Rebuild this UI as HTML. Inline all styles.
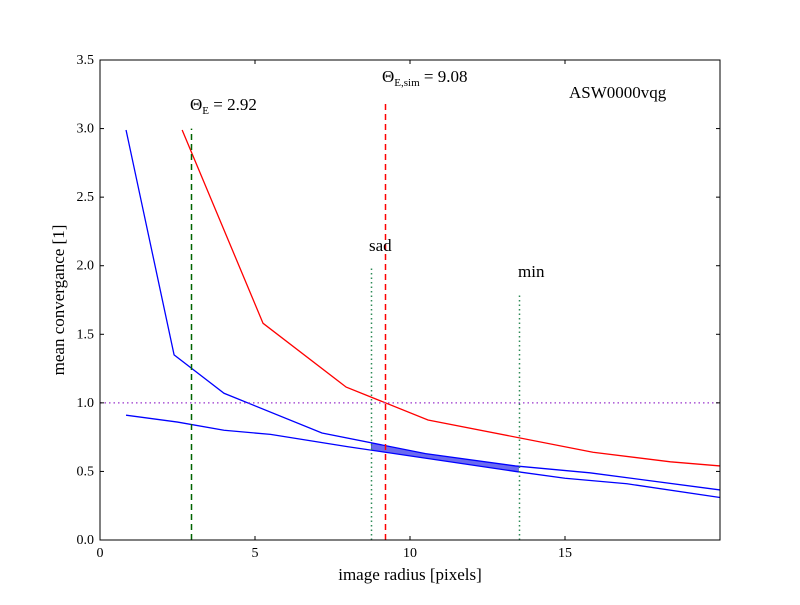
<!DOCTYPE html>
<html><head><meta charset="utf-8"><style>body{margin:0;background:#fff}svg text{font-family:"Liberation Serif",serif}</style></head>
<body>
<svg id="chart" width="800" height="600" xmlns="http://www.w3.org/2000/svg"></svg>
<script>
const xTicks=[0,5,10,15];
const yTicks=[0.0,0.5,1.0,1.5,2.0,2.5,3.0,3.5];
const redX=[2.65,5.26,7.94,10.58,15.9,18.4,20];
const redY=[2.99,1.58,1.115,0.875,0.64,0.57,0.54];
const blueUpX=[0.84,2.39,4.0,7.16,10.5,13.4,15.8,20];
const blueUpY=[2.99,1.35,1.07,0.78,0.63,0.54,0.49,0.365];
const blueLoX=[0.84,2.5,4.0,5.5,8.0,13.4,15.0,17.0,20];
const blueLoY=[0.91,0.86,0.80,0.77,0.68,0.50,0.45,0.41,0.31];
const shadeRange=[8.75,13.5];
const thetaE=2.95, thetaSim=9.2, sadX=8.75, minX=13.5;
const S='http://www.w3.org/2000/svg', svg=document.getElementById('chart');
const X=v=>100+v*31, Y=v=>540-v*137.14;
function el(t,a,p){const e=document.createElementNS(S,t);for(const k in a)e.setAttribute(k,a[k]);(p||svg).appendChild(e);return e;}
function interp(xs,ys,x){for(let i=0;i<xs.length-1;i++)if(x>=xs[i]&&x<=xs[i+1])return ys[i]+(ys[i+1]-ys[i])*(x-xs[i])/(xs[i+1]-xs[i]);return ys[ys.length-1];}
let pts=[];
const sx=[shadeRange[0],...blueUpX.filter(v=>v>shadeRange[0]&&v<shadeRange[1]),shadeRange[1]];
sx.forEach(x=>pts.push(X(x)+','+Y(interp(blueUpX,blueUpY,x))));
const sx2=[shadeRange[0],...blueLoX.filter(v=>v>shadeRange[0]&&v<shadeRange[1]),shadeRange[1]].reverse();
sx2.forEach(x=>pts.push(X(x)+','+Y(interp(blueLoX,blueLoY,x))));
let sh=el('polygon',{points:pts.join(' '),fill:'#6b6bf0',stroke:'#3333cc','stroke-width':0.5});


function line(xs,ys,c,n){const p=el('polyline',{points:xs.map((x,i)=>X(x)+','+Y(ys[i])).join(' '),fill:'none',stroke:c,'stroke-width':1.3});

}
line(redX,redY,'#ff0000','red-curve');
line(blueUpX,blueUpY,'#0000ff','blue-upper-curve');
line(blueLoX,blueLoY,'#0000ff','blue-lower-curve');
function vl(x,top,c,dash,n){const px=Math.round(X(x))+0.5;const l=el('line',{x1:px,x2:px,y1:540,y2:Y(top),stroke:c,'stroke-width':1.5,'stroke-dasharray':dash});

}
vl(thetaE,3.0,'#006400','6,4','theta-e-line');
vl(thetaSim,3.2,'#ff0000','6,4','theta-sim-line');
vl(sadX,2.0,'#2e8b57','1.5,3','sad-line');
vl(minX,1.8,'#2e8b57','1.5,3','min-line');
let h=el('line',{x1:100,x2:720,y1:Y(1),y2:Y(1),stroke:'#9933cc','stroke-width':1.3,'stroke-dasharray':'1.5,3'});


let fr=el('rect',{x:100,y:60,width:620,height:480,fill:'none',stroke:'#000','stroke-width':1});


xTicks.forEach(t=>{el('line',{x1:X(t),x2:X(t),y1:540,y2:536,stroke:'#000'});el('line',{x1:X(t),x2:X(t),y1:60,y2:64,stroke:'#000'});
const tx=el('text',{x:X(t),y:557,'text-anchor':'middle','font-size':14});tx.textContent=t;

});
yTicks.forEach(t=>{el('line',{x1:100,x2:104,y1:Y(t),y2:Y(t),stroke:'#000'});el('line',{x1:720,x2:716,y1:Y(t),y2:Y(t),stroke:'#000'});
const tx=el('text',{x:94,y:Y(t)+4,'text-anchor':'end','font-size':14});tx.textContent=t.toFixed(1);

});
</script>
<svg style="position:absolute;left:0;top:0" width="800" height="600" xmlns="http://www.w3.org/2000/svg">
<text x="410" y="580" text-anchor="middle" font-size="17">image radius [pixels]</text>
<text transform="translate(64,300) rotate(-90)" text-anchor="middle" font-size="17">mean convergance [1]</text>
<text x="190" y="110" font-size="17">Θ<tspan font-size="11" dy="4">E</tspan><tspan dy="-4"> = 2.92</tspan></text>
<text x="382" y="82" font-size="17">Θ<tspan font-size="11" dy="4">E,sim</tspan><tspan dy="-4"> = 9.08</tspan></text>
<text x="569" y="98" font-size="17">ASW0000vqg</text>
<text x="369" y="251" font-size="17">sad</text>
<text x="518" y="277" font-size="17">min</text>
</svg>
</body></html>
